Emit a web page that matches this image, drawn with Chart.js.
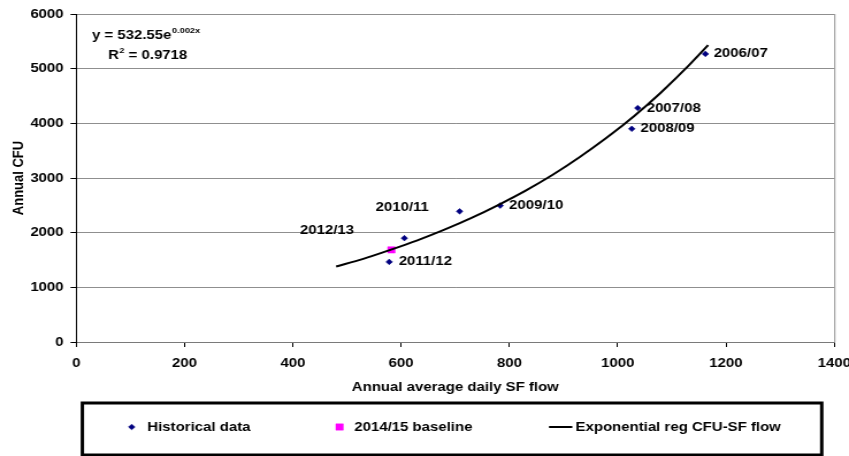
<!DOCTYPE html>
<html>
<head>
<meta charset="utf-8">
<script src="https://cdn.jsdelivr.net/npm/chart.js@4.4.1/dist/chart.umd.min.js"></script>
<style>
  html, body { margin: 0; padding: 0; background: #fff; overflow: hidden; }
  #wrap { width: 738px; height: 456px; transform: scaleX(1.1504); transform-origin: 0 0; }
</style>
</head>
<body>
<div id="wrap"><canvas id="c" width="738" height="456"></canvas></div>
<script>
// Historical seasons: annual average daily SF flow vs annual CFU
const seasons   = ['2006/07', '2007/08', '2008/09', '2009/10', '2010/11', '2011/12', '2012/13'];
const sfFlow    = [1162, 1037, 1026, 783, 708, 578, 606];
const annualCfu = [5270, 4280, 3900, 2495, 2390, 1465, 1900];

// 2014/15 baseline
const baselineFlow = [582];
const baselineCfu  = [1685];

// Exponential regression curve, CFU against SF flow
const trendFlow = [480, 530, 580, 630, 680, 730, 780, 830, 880, 930, 980, 1030, 1080, 1130, 1167];
const trendCfu  = [1380, 1520, 1685, 1860, 2055, 2270, 2510, 2770, 3060, 3385, 3740, 4130, 4565, 5045, 5430];

// Regression equation shown in the corner
const fitCoef = '532.55';
const fitRate = '0.002x';
const fitR2   = '0.9718';

const FONT = "'Liberation Sans', Arial, Helvetica, sans-serif";
Chart.defaults.font = { family: FONT, size: 13, weight: 'bold' };
Chart.defaults.color = '#000';

const toPoints = (xs, ys) => xs.map((x, i) => ({ x: x, y: ys[i] }));
const plainNumber = (v) => String(v);

// where each season label sits relative to its point
const labelPlacement = {
  '2006/07': { dx: 7.2, dy: 0, align: 'left' },
  '2007/08': { dx: 7.8, dy: 0, align: 'left' },
  '2008/09': { dx: 7.6, dy: 0, align: 'left' },
  '2009/10': { dx: 7.8, dy: 0, align: 'left' },
  '2010/11': { dx: -26.7, dy: -4, align: 'right' },
  '2011/12': { dx: 8.3, dy: 0, align: 'left' },
  '2012/13': { dx: -43.7, dy: -8, align: 'right' }
};

const seasonLabels = {
  id: 'seasonLabels',
  afterDatasetsDraw(chart) {
    const ctx = chart.ctx;
    const meta = chart.getDatasetMeta(0);
    ctx.save();
    ctx.font = 'bold 13px ' + FONT;
    ctx.fillStyle = '#000';
    ctx.textBaseline = 'middle';
    meta.data.forEach((pt, i) => {
      const p = labelPlacement[seasons[i]];
      ctx.textAlign = p.align;
      ctx.fillText(seasons[i], pt.x + p.dx, pt.y + p.dy);
    });
    ctx.restore();
  }
};

const frameAndNotes = {
  id: 'frameAndNotes',
  afterDraw(chart) {
    const ctx = chart.ctx;
    const a = chart.chartArea;
    ctx.save();

    // right edge of the plot frame
    ctx.strokeStyle = '#8f8f8f';
    ctx.lineWidth = 1;
    ctx.beginPath();
    ctx.moveTo(a.right + 0.5, a.top);
    ctx.lineTo(a.right + 0.5, a.bottom);
    ctx.stroke();

    // regression equation
    ctx.fillStyle = '#000';
    ctx.textAlign = 'left';
    ctx.textBaseline = 'alphabetic';
    const big = 'bold 13px ' + FONT;
    const small = 'bold 8px ' + FONT;
    let x = 80;
    const line1 = 'y = ' + fitCoef + 'e';
    ctx.font = big;
    ctx.fillText(line1, x, 38.5);
    x += ctx.measureText(line1).width;
    ctx.font = small;
    ctx.fillText(fitRate, x + 0.5, 32.5);

    x = 93.9;
    ctx.font = big;
    ctx.fillText('R', x, 58.5);
    x += ctx.measureText('R').width;
    ctx.font = small;
    ctx.fillText('2', x + 0.5, 52.5);
    x += ctx.measureText('2').width + 0.5;
    ctx.font = big;
    ctx.fillText(' = ' + fitR2, x, 58.5);

    // legend box
    ctx.strokeStyle = '#000';
    ctx.lineWidth = 3;
    ctx.strokeRect(71.6, 403, 714.3 - 71.6, 52);

    const ds = chart.data.datasets;
    const rowY = 427;
    ctx.font = big;
    ctx.textBaseline = 'middle';

    ctx.fillStyle = ds[0].backgroundColor;
    ctx.strokeStyle = ds[0].borderColor;
    ctx.lineWidth = ds[0].borderWidth;
    Chart.helpers.drawPoint(ctx, {
      pointStyle: ds[0].pointStyle, radius: ds[0].pointRadius, rotation: 0, borderWidth: ds[0].borderWidth
    }, 114.5, rowY);
    ctx.fillStyle = '#000';
    ctx.fillText(ds[0].label, 128.1, rowY);

    ctx.fillStyle = ds[1].backgroundColor;
    ctx.strokeStyle = ds[1].borderColor;
    ctx.lineWidth = ds[1].borderWidth;
    Chart.helpers.drawPoint(ctx, {
      pointStyle: ds[1].pointStyle, radius: ds[1].pointRadius, rotation: 0, borderWidth: ds[1].borderWidth
    }, 295.2, rowY);
    ctx.fillStyle = '#000';
    ctx.fillText(ds[1].label, 308, rowY);

    ctx.strokeStyle = ds[2].borderColor;
    ctx.lineWidth = ds[2].borderWidth;
    ctx.beginPath();
    ctx.moveTo(477.2, rowY);
    ctx.lineTo(497.5, rowY);
    ctx.stroke();
    ctx.fillText(ds[2].label, 500.3, rowY);

    ctx.restore();
  }
};

new Chart(document.getElementById('c'), {
  type: 'scatter',
  data: {
    datasets: [
      {
        label: 'Historical data',
        data: toPoints(sfFlow, annualCfu),
        pointStyle: 'rectRot',
        pointRadius: 2.8,
        borderWidth: 0.6,
        backgroundColor: '#000080',
        borderColor: '#000080',
        order: 1
      },
      {
        label: '2014/15 baseline',
        data: toPoints(baselineFlow, baselineCfu),
        pointStyle: 'rect',
        pointRadius: 4.5,
        borderWidth: 0.5,
        backgroundColor: '#ff00ff',
        borderColor: '#ff00ff',
        order: 2
      },
      {
        type: 'line',
        label: 'Exponential reg CFU-SF flow',
        data: toPoints(trendFlow, trendCfu),
        showLine: true,
        borderColor: '#000',
        borderWidth: 2,
        pointRadius: 0,
        fill: false,
        tension: 0.4,
        cubicInterpolationMode: 'monotone',
        order: 0
      }
    ]
  },
  options: {
    responsive: false,
    animation: false,
    layout: { padding: { left: 0, right: 12.8, top: 14, bottom: 0 } },
    plugins: {
      legend: { display: false },
      tooltip: { enabled: false }
    },
    scales: {
      x: {
        type: 'linear',
        min: 0,
        max: 1400,
        ticks: { stepSize: 200, padding: 9, color: '#000', maxRotation: 0, callback: plainNumber },
        grid: { drawOnChartArea: false, tickColor: '#000', tickLength: 5 },
        border: { color: '#7a7a7a', width: 1 },
        title: { display: true, text: 'Annual average daily SF flow', color: '#000', padding: { top: 0, bottom: 61 } },
        afterFit(s) { s.height = 114; s.paddingLeft = 0; s.paddingRight = 0; }
      },
      y: {
        min: 0,
        max: 6000,
        ticks: { stepSize: 1000, padding: 6, color: '#000', callback: plainNumber },
        grid: { color: '#8f8f8f', lineWidth: 1, tickColor: '#000', tickLength: 5 },
        border: { color: '#000', width: 1 },
        title: { display: true, text: 'Annual CFU', color: '#000', padding: { top: 8.5, bottom: 0 } },
        afterFit(s) { s.width = 66.3; s.paddingTop = 0; s.paddingBottom = 0; }
      }
    }
  },
  plugins: [seasonLabels, frameAndNotes]
});
</script>
</body>
</html>
